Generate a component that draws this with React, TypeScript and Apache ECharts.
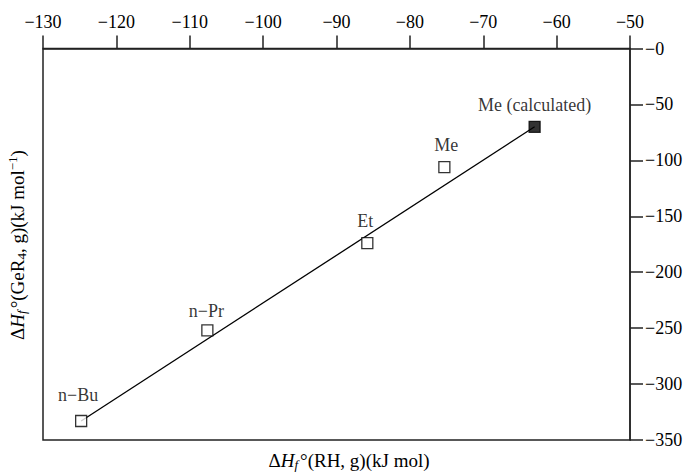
import React, { useEffect, useRef } from "react";
import * as echarts from "echarts";

// ---- data ----
const compounds = ["n−Bu", "n−Pr", "Et", "Me", "Me (calculated)"];
const rhEnthalpy = [-124.8, -107.6, -85.8, -75.3, -63.0];
const geEnthalpy = [-333, -252, -174, -106, -70];
const isCalculated = [false, false, false, false, true];
const fitLineX = [-124.8, -63.0];
const fitLineY = [-333, -70];
const xMin = -130;
const xMax = -50;
const xStep = 10;
const yMin = -350;
const yMax = 0;
const yStep = 50;

const FONT = "'Liberation Serif', 'DejaVu Serif', serif";
const AXIS_COLOR = "#222";

const minusFmt = (v: number) => (v === 0 ? "−0" : "−" + Math.abs(v));

// per-label placement tweaks (style only)
const labelOffsets: Record<string, [number, number]> = {
  "n−Bu": [-3, -4],
  "n−Pr": [-1, 3],
  Et: [-2, 0],
  Me: [2, 0],
  "Me (calculated)": [0, 0],
};

const richBase = {
  n: { fontFamily: FONT, fontSize: 19, lineHeight: 22, color: "#000" },
  i: { fontFamily: FONT, fontSize: 19, lineHeight: 22, fontStyle: "italic", color: "#000" },
  si: { fontFamily: FONT, fontSize: 13, lineHeight: 10, fontStyle: "italic", verticalAlign: "bottom", color: "#000", padding: [0, 2, 0, 0] },
  s: { fontFamily: FONT, fontSize: 13, lineHeight: 10, verticalAlign: "bottom", color: "#000" },
  p: { fontFamily: FONT, fontSize: 13, lineHeight: 10, verticalAlign: "top", color: "#000" },
};

export default function App() {
  const ref = useRef<HTMLDivElement>(null);

  useEffect(() => {
    if (!ref.current) return;
    const chart = echarts.init(ref.current, null, { renderer: "svg" });

    const scatterData = compounds.map((name, k) => ({
      name,
      value: [rhEnthalpy[k], geEnthalpy[k]],
      itemStyle: {
        color: isCalculated[k] ? "#000" : "#fff",
        borderColor: "#000",
        borderWidth: 1.3,
      },
      label: { offset: labelOffsets[name] || [0, 0] },
    }));

    const option: any = {
      animation: false,
      backgroundColor: "#fff",
      grid: {
        left: 43,
        right: 64,
        top: 48.5,
        bottom: 33,
        show: true,
        borderColor: AXIS_COLOR,
        borderWidth: 1.5,
        backgroundColor: "transparent",
      },
      xAxis: {
        type: "value",
        position: "top",
        min: xMin,
        max: xMax,
        interval: xStep,
        splitLine: { show: false },
        axisLine: { show: true, lineStyle: { color: AXIS_COLOR, width: 1.5 } },
        axisTick: { show: true, inside: false, length: 13, lineStyle: { color: AXIS_COLOR, width: 1.5 } },
        axisLabel: {
          show: true,
          margin: 18,
          formatter: minusFmt,
          fontFamily: FONT,
          fontSize: 18,
          color: "#000",
        },
      },
      yAxis: {
        type: "value",
        position: "right",
        min: yMin,
        max: yMax,
        interval: yStep,
        splitLine: { show: false },
        axisLine: { show: true, lineStyle: { color: AXIS_COLOR, width: 1.5 } },
        axisTick: { show: true, inside: false, length: 13, lineStyle: { color: AXIS_COLOR, width: 1.5 } },
        axisLabel: {
          show: true,
          margin: 15,
          align: "left",
          formatter: minusFmt,
          fontFamily: FONT,
          fontSize: 18,
          color: "#000",
        },
      },
      series: [
        {
          type: "line",
          data: fitLineX.map((x, k) => [x, fitLineY[k]]),
          showSymbol: false,
          symbol: "none",
          lineStyle: { color: "#000", width: 1.3 },
          z: 1,
          silent: true,
        },
        {
          type: "scatter",
          data: scatterData,
          symbol: "rect",
          symbolSize: 11,
          z: 3,
          label: {
            show: true,
            position: "top",
            distance: 7,
            formatter: (p: any) => p.name,
            fontFamily: FONT,
            fontSize: 18,
            color: "#000",
          },
        },
      ],
      graphic: [
        {
          type: "text",
          x: 349,
          y: 460,
          style: {
            text: "{n|Δ}{i|H}{si|f}{n|°(RH, g)(kJ mol)}",
            align: "center",
            verticalAlign: "middle",
            rich: richBase,
          },
        },
        {
          type: "text",
          x: 17,
          y: 245,
          rotation: Math.PI / 2,
          style: {
            text: "{n|Δ}{i|H}{si|f}{n|°(GeR}{s|4}{n|, g)(kJ mol}{p|−1}{n|)}",
            align: "center",
            verticalAlign: "middle",
            rich: richBase,
          },
        },
      ],
    };

    chart.setOption(option);
    return () => chart.dispose();
  }, []);

  return (
    <div
      ref={ref}
      style={{ position: "fixed", left: 0, top: 0, width: 694, height: 473, background: "#fff" }}
    />
  );
}
